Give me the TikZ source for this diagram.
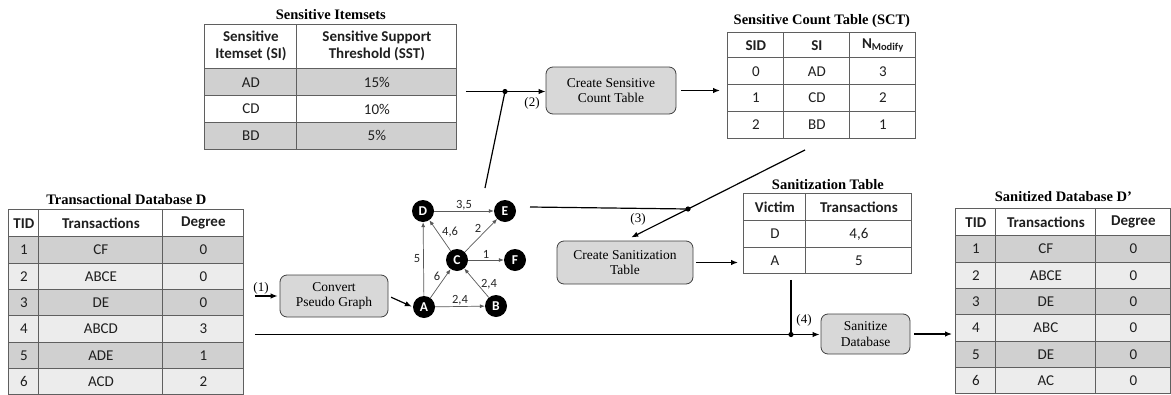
\documentclass[tikz,border=0pt]{standalone}
\usepackage{fontspec}
\setmainfont{Liberation Serif}
\newfontfamily\tabFont{Carlito}
\usetikzlibrary{matrix,positioning,arrows.meta}

\definecolor{rowDark}{RGB}{208,208,208}
\definecolor{rowLight}{RGB}{236,236,236}
\definecolor{boxFill}{RGB}{216,216,216}
\definecolor{gridLine}{RGB}{95,95,95}

\tikzset{
  dataTable/.style={matrix of nodes, inner sep=0pt, line width=0.9pt,
    row sep=-\pgflinewidth, column sep=-\pgflinewidth,
    nodes={draw=gridLine, anchor=center, inner sep=0pt, fill=white, text=black!88,
      font=\tabFont\fontsize{15}{17}\selectfont},
    row 1/.style={nodes={fill=white, font=\tabFont\bfseries\fontsize{15}{17}\selectfont}}},
  stripedRows/.style={nodes={fill=rowLight}, every even row/.style={nodes={fill=rowDark}}},
  headRow/.style={font=\tabFont\bfseries\fontsize{15}{17}\selectfont},
  tableTitle/.style={inner sep=0pt, font=\bfseries\fontsize{14.5}{16}\selectfont},
  process/.style={draw=black!75, line width=0.8pt, fill=boxFill, rounded corners=7pt,
    align=center, font=\fontsize{13.5}{15.5}\selectfont},
  vertex/.style={circle, fill=black, text=white, inner sep=0pt, minimum size=22pt,
    font=\tabFont\bfseries\fontsize{13.5}{13.5}\selectfont},
  graphEdge/.style={draw=black!65, line width=0.7pt, -{Latex[length=5pt,width=4pt]}},
  edgeLbl/.style={inner sep=1pt, text=black!85, font=\tabFont\fontsize{12.5}{12.5}\selectfont},
  flow/.style={line width=1.2pt, -{Latex[length=7pt,width=5.5pt]}},
  flowLbl/.style={inner sep=0pt, font=\fontsize{13}{13}\selectfont},
}

\begin{document}
\begin{tikzpicture}[x=1pt, y=-1pt]
    \newcommand{\twoLine}[2]{\begin{tabular}{@{}c@{}}#1\\#2\end{tabular}}
    \newcommand{\joinDot}[1]{
        \fill (#1) circle (2.6pt);
    }
\useasboundingbox (0,0) rectangle (1171,394);

\matrix (sensTab) [dataTable, anchor=north west,
  nodes={minimum height=26.7pt},
  row 1/.style={nodes={minimum height=44pt, fill=white, headRow}},
  row 2/.style={nodes={fill=rowDark}}, row 4/.style={nodes={fill=rowDark}},
  column 1/.style={nodes={minimum width=92pt}},
  column 2/.style={nodes={minimum width=160pt}}
] at (204,24)
  {
    \twoLine{Sensitive}{Itemset (SI)} & \twoLine{Sensitive Support}{Threshold (SST)} \\
    AD & 15\% \\
    CD & 10\% \\
    BD & 5\% \\
  };
\node[tableTitle, above=4pt of sensTab.north] (sensTitle) {Sensitive Itemsets};

\matrix (sctTab) [dataTable, anchor=north west,
  nodes={minimum height=26.7pt},
  row 1/.style={nodes={minimum height=25pt, headRow}},
  column 1/.style={nodes={minimum width=56pt}},
  column 2/.style={nodes={minimum width=66pt}},
  column 3/.style={nodes={minimum width=66pt}}
] at (727,32)
  {
    SID & SI & N\textsubscript{Modify} \\
    0 & AD & 3 \\
    1 & CD & 2 \\
    2 & BD & 1 \\
  };
\node[tableTitle, above=4pt of sctTab.north] (sctTitle) {Sensitive Count Table (SCT)};

\matrix (dbTab) [dataTable, stripedRows, anchor=north west,
  nodes={minimum height=26.3pt},
  row 1/.style={nodes={minimum height=27pt, fill=white, headRow}},
  column 1/.style={nodes={minimum width=30pt}},
  column 2/.style={nodes={minimum width=124pt}},
  column 3/.style={nodes={minimum width=81pt}}
] at (8,209)
  {
    TID & Transactions & Degree \\
    1 & CF & 0 \\
    2 & ABCE & 0 \\
    3 & DE & 0 \\
    4 & ABCD & 3 \\
    5 & ADE & 1 \\
    6 & ACD & 2 \\
  };
\node[tableTitle, above=4pt of dbTab.north] (dbTitle) {Transactional Database D};

\matrix (sanTab) [dataTable, anchor=north west,
  nodes={minimum height=26.5pt},
  row 1/.style={nodes={minimum height=27pt, headRow}},
  column 1/.style={nodes={minimum width=62pt}},
  column 2/.style={nodes={minimum width=106pt}}
] at (743,193)
  {
    Victim & Transactions \\
    D & 4,6 \\
    A & 5 \\
  };
\node[tableTitle, above=3pt of sanTab.north] (sanTitle) {Sanitization Table};

\matrix (outTab) [dataTable, stripedRows, anchor=north west,
  nodes={minimum height=26.3pt},
  row 1/.style={nodes={minimum height=27pt, fill=white, headRow}},
  column 1/.style={nodes={minimum width=40pt}},
  column 2/.style={nodes={minimum width=100pt}},
  column 3/.style={nodes={minimum width=75pt}}
] at (955,208)
  {
    TID & Transactions & Degree \\
    1 & CF & 0 \\
    2 & ABCE & 0 \\
    3 & DE & 0 \\
    4 & ABC & 0 \\
    5 & DE & 0 \\
    6 & AC & 0 \\
  };
\node[tableTitle, above=6pt of outTab.north] (outTitle) {Sanitized Database D’};

\node[process, minimum width=130pt, minimum height=47pt] (sctBox) at (611,90.5) {Create Sensitive\\Count Table};
\node[process, minimum width=136pt, minimum height=43pt] (sanBox) at (625,262.5) {Create Sanitization\\Table};
\node[process, minimum width=108pt, minimum height=42pt] (convBox) at (334,296) {Convert\\Pseudo Graph};
\node[process, minimum width=89pt, minimum height=40pt] (dbBox) at (865.5,334) {Sanitize\\Database};

\node[vertex] (vA) at (424,307) {A};
\node[vertex] (vB) at (496,306) {B};
\node[vertex] (vC) at (457,260) {C};
\node[vertex] (vD) at (423,211) {D};
\node[vertex] (vE) at (505,211) {E};
\node[vertex] (vF) at (515,260) {F};

\draw[graphEdge] (vA) -- node[edgeLbl, left=2pt] {5} (vD);
\draw[graphEdge] (vA) -- node[edgeLbl, above left, pos=0.55] {6} (vC);
\draw[graphEdge] (vA) -- node[edgeLbl, above] {2,4} (vB);
\draw[graphEdge] (vB) -- node[edgeLbl, right=2pt, pos=0.45] {2,4} (vC);
\draw[graphEdge] (vC) -- node[edgeLbl, right=3pt, pos=0.6] {4,6} (vD);
\draw[graphEdge] (vC) -- node[edgeLbl, above left, pos=0.55] {2} (vE);
\draw[graphEdge] (vC) -- node[edgeLbl, above] {1} (vF);
\draw[graphEdge] (vD) -- node[edgeLbl, above] {3,5} (vE);

\coordinate (j2) at (505,91.5);
\coordinate (j3) at (688,209);
\coordinate (j4) at (791,334.5);
\coordinate (graphTop) at (485,188);
\coordinate (eOut) at (530,207);
\coordinate (sctOut) at (805,150);

\draw[line width=1.2pt, shorten <=8pt] (sensTab.east |- j2) -- (j2);
\draw[line width=1.2pt] (graphTop) -- (j2);
\draw[flow] (j2) -- (sctBox.west |- j2);
\draw[flow, shorten <=5pt, shorten >=7pt] (sctBox.east) -- (sctTab.west |- sctBox.east);

\draw[line width=1.2pt] (eOut) -- (j3);
\draw[line width=1.2pt] (sctOut) -- (j3);
\draw[flow, shorten >=7pt] (j3) -- (sanBox.north);
\draw[flow, shorten <=3pt, shorten >=5pt] (sanBox.east) -- (sanTab.west |- sanBox.east);

\draw[flow, shorten <=10pt, shorten >=2pt] (dbTab.east |- convBox) -- (convBox.west);
\draw[flow, shorten <=3pt, shorten >=1pt] (convBox.east) -- (vA.west);

\draw[line width=1.2pt, shorten <=5pt] (sanTab.south -| j4) -- (j4);
\draw[line width=1.2pt, shorten <=10pt] (dbTab.east |- j4) -- (j4);
\draw[flow, shorten >=1pt] (j4) -- (dbBox.west |- j4);
\draw[flow, shorten <=4pt, shorten >=3pt] (dbBox.east) -- (outTab.west |- dbBox.east);

\joinDot{j2}
\joinDot{j3}
\joinDot{j4}

\node[flowLbl] (lbl1) at (261,288) {(1)};
\node[flowLbl] (lbl2) at (532,103) {(2)};
\node[flowLbl] (lbl3) at (638,219) {(3)};
\node[flowLbl] (lbl4) at (804,320) {(4)};

\end{tikzpicture}
\end{document}
